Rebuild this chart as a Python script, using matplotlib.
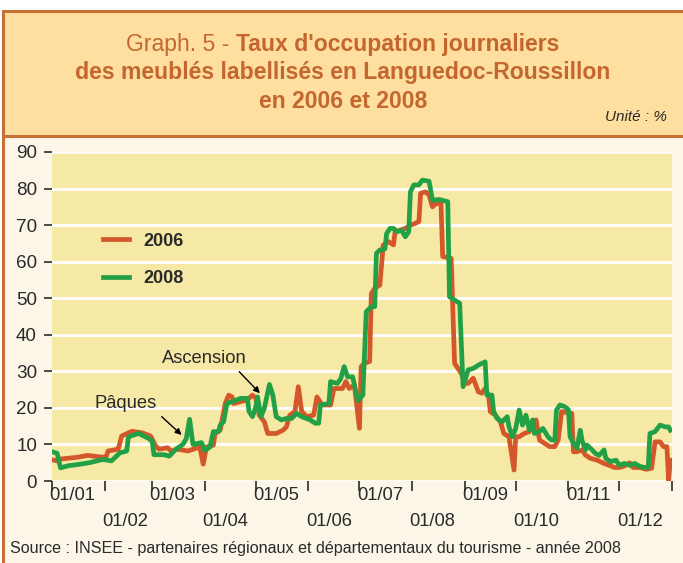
import matplotlib
matplotlib.use('Agg')
import matplotlib.pyplot as plt
from matplotlib.patches import Rectangle
import matplotlib.transforms as mtransforms

plt.rcParams['font.family'] = ['Liberation Sans', 'DejaVu Sans']

# ---------------- data ----------------
days_2006 = [0, 3, 5, 15, 21, 30, 32, 33, 39, 41, 47, 53, 58, 61, 63, 68, 70, 74, 80, 87,
             89, 91, 95, 96, 99, 102, 104, 106, 107, 111, 115, 118, 120, 122, 125, 127, 132,
             136, 138, 140, 143, 145, 147, 150, 154, 156, 159, 164, 166, 171, 173, 175, 178,
             181, 182, 184, 187, 188, 190, 193, 195, 198, 201, 202, 205, 208, 211, 214, 216,
             217, 220, 222, 224, 226, 229, 230, 235, 237, 241, 243, 245, 248, 251, 253, 255,
             257, 258, 261, 264, 266, 269, 272, 273, 275, 278, 281, 283, 285, 287, 290, 293,
             296, 298, 300, 306, 307, 309, 312, 314, 317, 321, 325, 328, 331, 334, 337, 340,
             342, 346, 350, 353, 355, 358, 360, 362, 363, 364]
vals_2006 = [5.8, 5.5, 6.0, 6.5, 7.0, 6.5, 6.8, 8.2, 8.7, 12.3, 13.6, 13.2, 12.3, 9.6, 8.7, 9.1,
             8.2, 8.7, 8.2, 9.3, 4.6, 9.3, 9.8, 13.0, 13.9, 21.2, 23.5, 23.0, 21.2, 21.7, 22.2,
             23.5, 22.6, 18.0, 16.2, 13.0, 13.0, 13.9, 14.8, 18.0, 19.0, 25.8, 19.0, 17.6, 18.0,
             23.0, 20.8, 20.8, 25.3, 25.3, 27.2, 25.3, 26.3, 14.4, 31.3, 32.2, 32.7, 51.3, 52.7,
             53.6, 64.5, 65.5, 64.6, 68.2, 68.6, 69.1, 70.0, 70.5, 71.0, 78.7, 79.1, 78.2, 75.0,
             75.9, 75.9, 61.4, 60.9, 32.2, 29.4, 26.7, 26.7, 28.1, 24.4, 24.0, 25.3, 23.5, 19.0,
             18.0, 16.2, 13.0, 12.1, 3.0, 12.1, 12.1, 13.0, 13.5, 15.8, 16.7, 11.2, 10.3, 9.4,
             9.4, 11.2, 19.0, 18.5, 8.0, 8.0, 8.5, 7.1, 6.2, 5.7, 4.8, 4.3, 3.7, 3.7, 4.1, 5.0,
             3.7, 3.7, 3.2, 3.5, 10.7, 10.7, 9.4, 9.4, 0.2, 5.7]

days_2008 = [0, 3, 5, 10, 15, 22, 30, 35, 40, 44, 45, 51, 57, 59, 60, 66, 69, 73, 77, 79, 81,
             83, 88, 90, 93, 95, 98, 99, 101, 103, 106, 111, 115, 116, 118, 120, 121, 123, 125,
             128, 130, 132, 135, 138, 141, 144, 147, 152, 155, 157, 158, 163, 164, 168, 170,
             172, 174, 177, 178, 180, 183, 185, 188, 190, 191, 193, 196, 197, 199, 201, 203,
             206, 208, 210, 211, 213, 216, 218, 222, 224, 228, 233, 234, 237, 240, 242, 245,
             248, 251, 255, 256, 259, 260, 262, 265, 268, 269, 271, 273, 275, 277, 279, 281,
             283, 284, 287, 289, 292, 294, 296, 297, 299, 302, 304, 305, 307, 309, 311, 312,
             314, 315, 318, 320, 322, 325, 326, 329, 332, 334, 337, 340, 343, 346, 349, 351,
             352, 355, 358, 361, 363, 364]
vals_2008 = [8.0, 7.6, 3.6, 4.2, 4.5, 5.0, 5.9, 5.5, 7.7, 8.2, 12.1, 13.0, 11.6, 10.8, 7.2, 7.2,
             6.8, 8.7, 10.0, 11.5, 16.9, 10.0, 10.5, 8.4, 9.3, 13.5, 13.5, 15.3, 16.2, 21.2,
             21.7, 22.6, 22.6, 19.0, 17.6, 20.3, 23.0, 17.6, 19.9, 26.4, 23.5, 17.6, 16.7, 17.1,
             17.1, 18.5, 17.6, 16.7, 15.8, 15.8, 20.8, 21.2, 27.2, 26.7, 28.0, 31.3, 28.5, 28.5,
             26.3, 22.0, 23.5, 46.3, 47.7, 47.7, 62.3, 63.2, 63.5, 67.7, 69.1, 69.1, 68.2, 68.5,
             66.8, 68.2, 79.1, 81.0, 81.0, 82.3, 82.0, 76.8, 77.0, 76.4, 50.4, 49.5, 48.6, 25.8,
             30.4, 30.8, 31.7, 32.6, 23.5, 23.5, 19.0, 17.1, 16.2, 17.6, 14.9, 12.1, 14.4, 19.4,
             15.3, 18.0, 14.0, 16.7, 13.0, 13.5, 14.4, 12.1, 11.2, 11.2, 19.4, 20.8, 20.3, 19.5,
             12.1, 10.3, 9.0, 13.9, 11.2, 8.5, 9.8, 8.5, 7.5, 7.0, 8.5, 6.2, 5.3, 5.7, 4.3, 4.8,
             4.3, 4.8, 4.0, 3.7, 3.7, 13.0, 13.5, 15.3, 14.8, 14.8, 13.9]

month_starts = [0, 31, 59, 90, 120, 151, 181, 212, 243, 273, 304, 334]
month_labels = ['01/01', '01/02', '01/03', '01/04', '01/05', '01/06',
                '01/07', '01/08', '01/09', '01/10', '01/11', '01/12']
year_end = 365
y_ticks = [0, 10, 20, 30, 40, 50, 60, 70, 80, 90]

# ---------------- styles ----------------
W, H = 683, 563
ORANGE_BORDER = '#C86F36'
TITLE_FILL = '#FEDFA0'
CREAM = '#FCF6E8'
PLOT_BG = '#F6E8A5'
TITLE_COL = '#C4672F'
C06 = '#D3572A'
C08 = '#22A045'
TXT = '#2A2A2A'


def fx(px):
    return px / W


def fy(py):
    return 1 - py / H


fig = plt.figure(figsize=(W / 100, H / 100), dpi=100)
fig.patch.set_facecolor('white')

# cream chart panel and title box
fig.patches.append(Rectangle((fx(3), fy(620)), fx(720), (620 - 136) / H,
                             transform=fig.transFigure, facecolor=CREAM,
                             edgecolor=ORANGE_BORDER, lw=2.2, zorder=-3))
fig.patches.append(Rectangle((fx(3), fy(136)), fx(720), (136 - 11) / H,
                             transform=fig.transFigure, facecolor=TITLE_FILL,
                             edgecolor=ORANGE_BORDER, lw=2.2, zorder=-2))

# title
TS = 16.6
cx = 343
ta = fig.text(0, fy(45), 'Graph. 5 - ', fontsize=TS, color=TITLE_COL, va='center', ha='left')
tb = fig.text(0, fy(45), "Taux d'occupation journaliers", fontsize=TS, color=TITLE_COL,
              fontweight='bold', va='center', ha='left')
fig.text(fx(cx), fy(73), 'des meublés labellisés en Languedoc-Roussillon', fontsize=TS,
         color=TITLE_COL, fontweight='bold', va='center', ha='center')
fig.text(fx(cx), fy(101), 'en 2006 et 2008', fontsize=TS, color=TITLE_COL,
         fontweight='bold', va='center', ha='center')
fig.text(fx(667), fy(117), 'Unité : %', fontsize=11, style='italic', color=TXT,
         va='center', ha='right')

fig.canvas.draw()
r = fig.canvas.get_renderer()
wa = ta.get_window_extent(r).width
wb = tb.get_window_extent(r).width
x0 = cx - (wa + wb) / 2
ta.set_x(fx(x0))
tb.set_x(fx(x0 + wa))

# axes
ax = fig.add_axes([fx(52), fy(481), fx(672) - fx(52), (481 - 152) / H])
ax.set_facecolor(PLOT_BG)
for s in ax.spines.values():
    s.set_visible(False)
ax.set_xlim(0, year_end)
ax.set_ylim(0, 90)
ax.set_yticks(y_ticks)
ax.set_xticks(month_starts + [year_end])
ax.set_xticklabels([])
ax.yaxis.grid(True, color='white', lw=2.0)
ax.set_axisbelow(True)
ax.tick_params(axis='y', length=5.8, width=1.2, color=TXT, labelsize=13.6,
               labelcolor=TXT, pad=5)
ax.tick_params(axis='x', length=7.5, width=1.2, color=TXT)

ax.plot(days_2006, vals_2006, color=C06, lw=3.4, label='2006', solid_joinstyle='round', zorder=3)
ax.plot(days_2008, vals_2008, color=C08, lw=3.4, label='2008', solid_joinstyle='round', zorder=4)

# month labels in two rows
trans = mtransforms.blended_transform_factory(ax.transData, ax.transAxes)
for i, (m, lab) in enumerate(zip(month_starts, month_labels)):
    yy = -0.0426 if i % 2 == 0 else -0.1246
    ax.text(m + 12, yy, lab, transform=trans, ha='center', va='center',
            fontsize=13.2, color=TXT)

leg = ax.legend(loc='upper left', bbox_to_anchor=(0.082, 0.755), frameon=False,
                prop={'weight': 'bold', 'size': 13}, handlelength=1.45,
                handletextpad=0.8, labelspacing=1.15, borderpad=0, borderaxespad=0)
for t in leg.get_texts():
    t.set_color(TXT)

# annotations
ax.text(43.5, 21.1, 'Pâques', fontsize=13.2, color=TXT, ha='center', va='center')
ax.annotate('', xy=(76.3, 12.6), xytext=(64.6, 17.6),
            arrowprops=dict(arrowstyle='-|>', color='black', lw=1.0, mutation_scale=9,
                            shrinkA=0, shrinkB=0), zorder=6)
ax.text(89.8, 33.4, 'Ascension', fontsize=13.2, color=TXT, ha='center', va='center')
ax.annotate('', xy=(122.4, 24.0), xytext=(110.2, 29.9),
            arrowprops=dict(arrowstyle='-|>', color='black', lw=1.0, mutation_scale=9,
                            shrinkA=0, shrinkB=0), zorder=6)

fig.text(fx(10), fy(549),
         'Source : INSEE - partenaires régionaux et départementaux du tourisme - année 2008',
         fontsize=11.6, color=TXT, va='center', ha='left')

fig.savefig('out.png', dpi=100, facecolor=fig.get_facecolor())
